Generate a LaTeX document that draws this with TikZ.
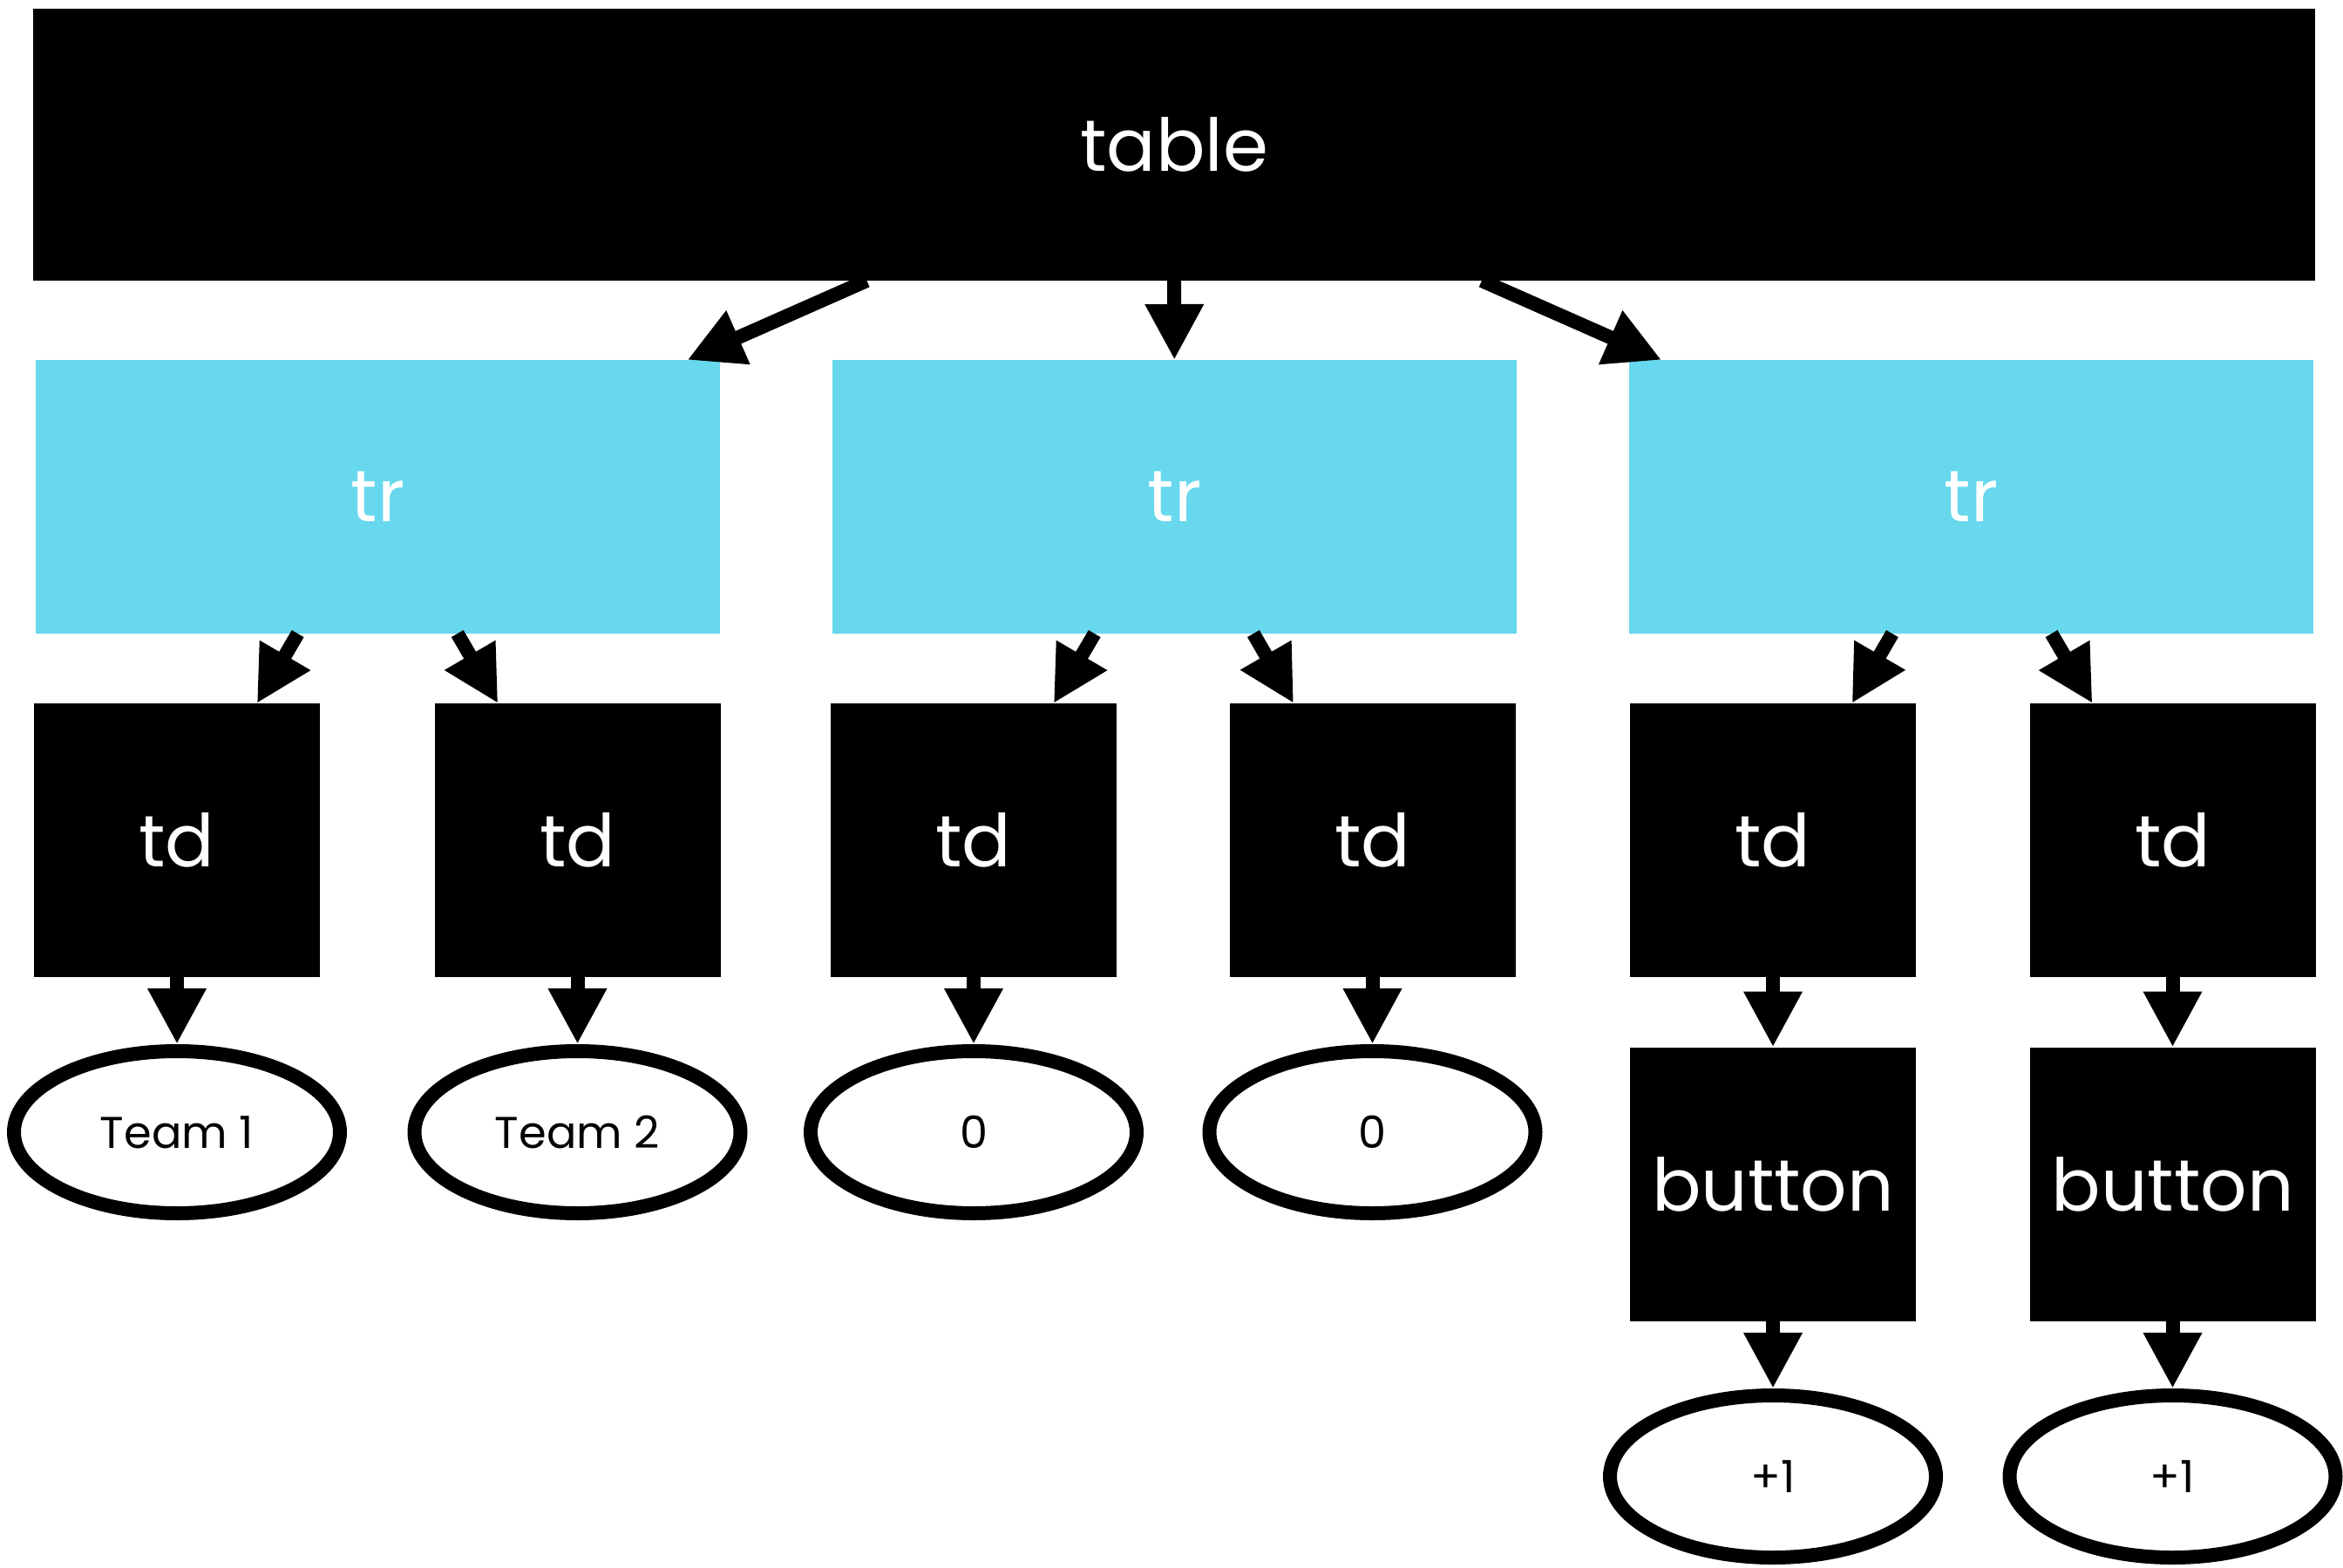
\documentclass[tikz,border=0pt]{standalone}
\usepackage{fontspec}
\setmainfont{Poppins}
\usetikzlibrary{arrows.meta,shapes.geometric}
\definecolor{rowblue}{RGB}{103,216,237}
\begin{document}
\begin{tikzpicture}[x=1cm,y=-1cm,line join=round,
    tag/.style={fill=black,text=white,minimum width=3.28cm,minimum height=3.14cm,
      inner sep=0pt,outer sep=0pt,font=\fontsize{23.8}{23.8}\selectfont},
    row/.style={tag,fill=rowblue,minimum width=7.85cm},
    leaf/.style={ellipse,draw,line width=0.16cm,minimum width=3.74cm,minimum height=1.86cm,
      inner sep=0pt,font=\fontsize{14.5}{14.5}\selectfont},
    edge/.style={-{Triangle[length=0.64cm,width=0.63cm]},line width=0.16cm}]
    \def\rowy{5.70} \def\tdy{9.64} \def\leafy{12.99} \def\btny{13.585} \def\lasty{16.94} % hàng
    \useasboundingbox (0,0) rectangle (26.88,17.99);
    \node[tag,minimum width=26.18cm,minimum height=3.12cm] (table) at (13.47,1.66) {table};
    \node[row] (tr1) at (4.335,\rowy) {tr};
    \node[row] (tr2) at (13.475,\rowy) {tr};
    \node[row] (tr3) at (22.615,\rowy) {tr};
    \node[tag] (td1) at (2.03,\tdy) {td};
    \node[tag] (td2) at (6.625,\tdy) {td};
    \node[tag] (td3) at (11.17,\tdy) {td};
    \node[tag] (td4) at (15.745,\tdy) {td};
    \node[tag] (td5) at (20.34,\tdy) {td};
    \node[tag] (td6) at (24.925,\tdy) {td};
    \node[leaf] (team1) at (2.03,\leafy) {Team 1};
    \node[leaf] (team2) at (6.625,\leafy) {Team 2};
    \node[leaf] (score1) at (11.17,\leafy) {0};
    \node[leaf] (score2) at (15.745,\leafy) {0};
    \node[tag] (btn1) at (20.34,\btny) {button};
    \node[tag] (btn2) at (24.925,\btny) {button};
    \node[leaf] (plus1) at (20.34,\lasty) {+1};
    \node[leaf] (plus2) at (24.925,\lasty) {+1};
    \foreach \a/\b in {table/tr1,table/tr2,table/tr3,tr1/td1,tr1/td2,tr2/td3,tr2/td4,tr3/td5,tr3/td6,
      td1/team1,td2/team2,td3/score1,td4/score2,td5/btn1,td6/btn2,btn1/plus1,btn2/plus2}
      \draw[edge] (\a) -- (\b);
\end{tikzpicture}
\end{document}
